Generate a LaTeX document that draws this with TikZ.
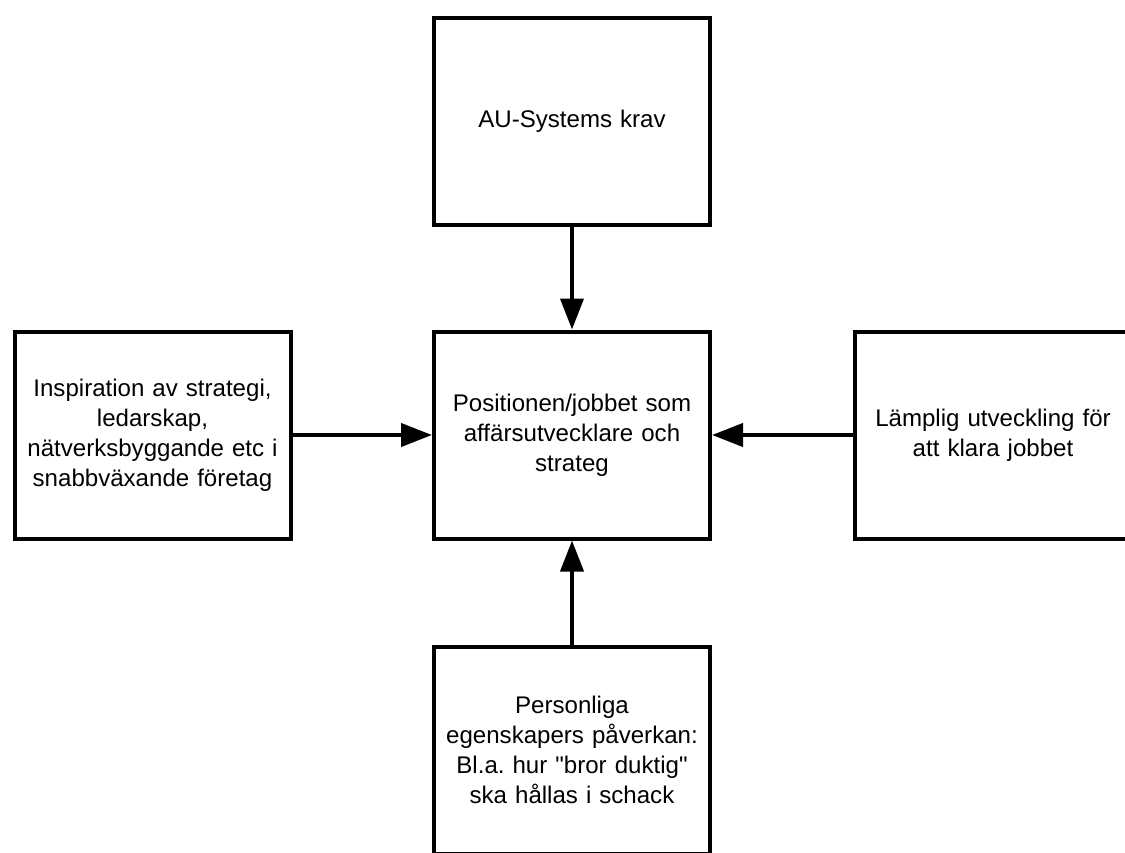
\documentclass[tikz,border=0pt]{standalone}
\usepackage{fontspec}
\setmainfont{Liberation Sans}
\usetikzlibrary{arrows.meta, positioning}
\frenchspacing

\begin{document}
\begin{tikzpicture}[
        font=\fontsize{13.7}{17}\selectfont,
        rel/.style={-{Triangle[length=0.62cm,width=0.46cm]}, line width=0.08cm, draw=black},
        block/.style={draw=black, fill=white, line width=0.08cm, align=center, inner sep=4pt, minimum width=5.52cm, minimum height=4.14cm, text width=5.1cm}
      ]
        \clip (0,0) rectangle (22.5,-17.04);
        \node[block] (krav) at (11.44,-2.43) {AU-Systems krav};
        \node[block] (position) at (11.44,-8.70) {Positionen/jobbet som\\affärsutvecklare och\\strateg};
        \node[block] (inspiration) at (3.05,-8.70) {Inspiration av strategi,\\ledarskap,\\nätverksbyggande etc i\\snabbväxande företag};
        \node[block] (utveckling) at (19.86,-8.70) {Lämplig utveckling för\\att klara jobbet};
        \node[block] (egenskaper) at (11.44,-15.0) {Personliga\\egenskapers påverkan:\\Bl.a. hur \textquotedbl bror duktig\textquotedbl\\ska hållas i schack};
        \draw[rel] (krav) -- (position);
        \draw[rel] (inspiration) -- (position);
        \draw[rel] (utveckling) -- (position);
        \draw[rel] (egenskaper) -- (position);
      \end{tikzpicture}
\end{document}
